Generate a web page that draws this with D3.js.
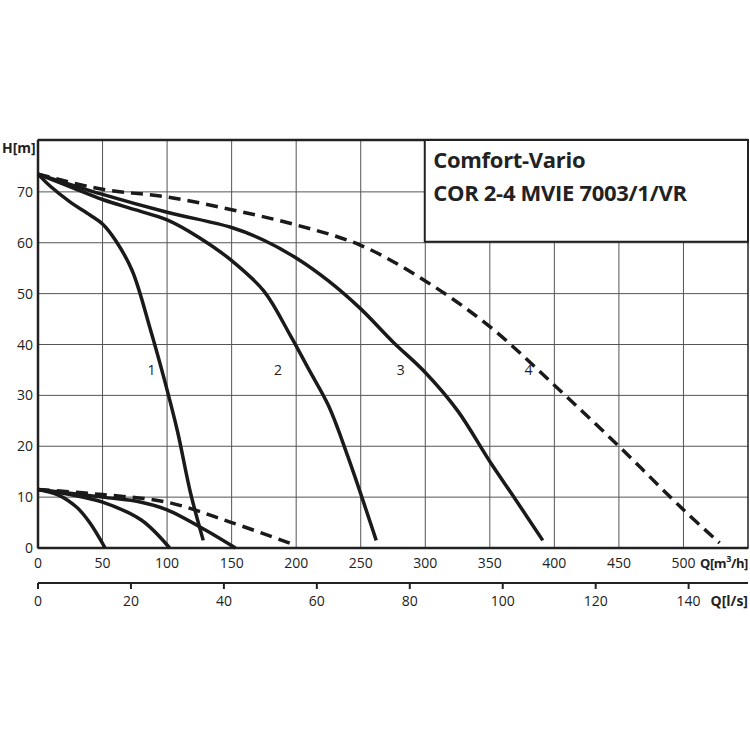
<!DOCTYPE html>
<html><head><meta charset="utf-8">
<script src="https://cdn.jsdelivr.net/npm/d3@7"></script>
<style>body{margin:0;background:#fff}text{font-family:"Open Sans",sans-serif;fill:#222}</style>
</head><body><svg id="c" width="750" height="750"></svg>
<script>
// Pump curves, Q in m3/h, H in m
const curve1 = [[0,73.5],[10,71],[25,68],[40,65.5],[50,63.7],[60,60.5],[73,54.5],[87,43],[98,33],[108,23],[118,11],[128,1.5]];
const curve2 = [[0,73.5],[25,71],[50,68.5],[75,66.5],[100,64.5],[125,61],[150,56.5],[175,50.5],[195,42],[210,35],[225,28],[240,18],[262,1.5]];
const curve3 = [[0,73.5],[50,69.5],[100,66],[150,63],[175,60.5],[200,57],[225,52.5],[250,47],[275,40.5],[300,34.5],[325,27],[350,17],[370,9.5],[391,1.5]];
const curve4 = [[0,73.5],[50,70.5],[100,69],[150,66.5],[200,63.5],[250,59.5],[300,52.5],[350,43.5],[400,32],[450,20],[500,7.5],[528,1]];
const low1 = [[0,11.5],[15,10.5],[30,8],[40,5],[52,0]];
const low2 = [[0,11.5],[25,10.5],[50,9],[80,5.5],[102,0]];
const low3 = [[0,11.5],[50,10],[80,9],[100,7.5],[130,3.5],[153,0]];
const low4 = [[0,11.5],[50,10.5],[100,9],[150,5],[200,0.5]];
const curveLabels = [["1",88,35],["2",186,35],["3",281,35],["4",380,35]];
const qTicks = [0,50,100,150,200,250,300,350,400,450,500];
const hTicks = [0,10,20,30,40,50,60,70];
const lsTicks = [0,20,40,60,80,100,120,140];

const svg = d3.select('#c');
const L = 38, R = 748, T = 140, B = 548;
const x = d3.scaleLinear().domain([0,550]).range([L,R]);
const y = d3.scaleLinear().domain([0,80.2]).range([B,T]);
const xs = d3.scaleLinear().domain([0,550/3.6]).range([L,R]);

// grid
svg.append('g').selectAll('line').data(d3.range(50,550,50)).join('line')
  .attr('x1',d=>x(d)).attr('x2',d=>x(d)).attr('y1',T).attr('y2',B)
  .attr('stroke','#555').attr('stroke-width',1);
svg.append('g').selectAll('line').data(hTicks.slice(1)).join('line')
  .attr('x1',L).attr('x2',R).attr('y1',d=>y(d)).attr('y2',d=>y(d))
  .attr('stroke','#555').attr('stroke-width',1);
svg.append('rect').attr('x',L).attr('y',T).attr('width',R-L).attr('height',B-T)
  .attr('fill','none').attr('stroke','#222').attr('stroke-width',1.5);
svg.append('line').attr('x1',L).attr('x2',R).attr('y1',B).attr('y2',B).attr('stroke','#222').attr('stroke-width',2.5);
svg.append('line').attr('x1',L).attr('x2',L).attr('y1',T).attr('y2',B).attr('stroke','#222').attr('stroke-width',2.5);
svg.append('line').attr('x1',L).attr('x2',R).attr('y1',T).attr('y2',T).attr('stroke','#222').attr('stroke-width',2.5);

// title box
svg.append('rect').attr('x',x(300)-0.5).attr('y',T).attr('width',R-x(300)+0.5).attr('height',y(60.2)-T)
  .attr('fill','#fff').attr('stroke','#222').attr('stroke-width',2);
svg.append('text').attr('x',x(300)+8).attr('y',T+28).attr('font-size',22).attr('font-weight','bold').attr('letter-spacing',-0.3).text('Comfort-Vario');
svg.append('text').attr('x',x(300)+8).attr('y',T+61).attr('font-size',22).attr('font-weight','bold').attr('letter-spacing',-0.3).text('COR 2-4 MVIE 7003/1/VR');

// axis labels
svg.append('g').selectAll('text').data(hTicks).join('text')
  .attr('x',L-5).attr('y',d=>y(d)+5).attr('text-anchor','end').attr('font-size',14).text(d=>d);
svg.append('g').selectAll('text').data(qTicks).join('text')
  .attr('x',d=>x(d)).attr('y',B+20).attr('text-anchor','middle').attr('font-size',14).text(d=>d);
svg.append('text').attr('x',2).attr('y',T+13).attr('font-size',14).attr('font-weight','bold').text('H[m]');
svg.append('text').attr('x',R).attr('y',B+20).attr('text-anchor','end').attr('font-size',13).attr('font-weight','bold').attr('letter-spacing',-0.4)
  .html('Q[m<tspan dy="-6" font-size="9">3</tspan><tspan dy="6">/h]</tspan>');

// second axis l/s
const ya = 583;
svg.append('line').attr('x1',L).attr('x2',R).attr('y1',ya).attr('y2',ya).attr('stroke','#222').attr('stroke-width',2);
svg.append('g').selectAll('line').data(lsTicks).join('line')
  .attr('x1',d=>xs(d)).attr('x2',d=>xs(d)).attr('y1',ya).attr('y2',ya+6).attr('stroke','#222').attr('stroke-width',2);
svg.append('g').selectAll('text').data(lsTicks).join('text')
  .attr('x',d=>xs(d)).attr('y',ya+23).attr('text-anchor','middle').attr('font-size',14).text(d=>d);
svg.append('text').attr('x',R).attr('y',ya+23).attr('text-anchor','end').attr('font-size',14).attr('font-weight','bold').text('Q[l/s]');

// curves
const lineSteep = d3.line().x(d=>x(d[0])).y(d=>y(d[1])).curve(d3.curveCatmullRom);
[curve1,curve2,curve3,low1,low2,low3].forEach(c=>svg.append('path').datum(c).attr('d',lineSteep)
  .attr('fill','none').attr('stroke','#1a1a1a').attr('stroke-width',3.5));
[curve4,low4].forEach(c=>svg.append('path').datum(c).attr('d',lineSteep)
  .attr('fill','none').attr('stroke','#1a1a1a').attr('stroke-width',3.5).attr('stroke-dasharray','12,7'));

svg.append('g').selectAll('text').data(curveLabels).join('text')
  .attr('x',d=>x(d[1])).attr('y',d=>y(d[2])+5).attr('text-anchor','middle').attr('font-size',14).text(d=>d[0]);
</script></body></html>
